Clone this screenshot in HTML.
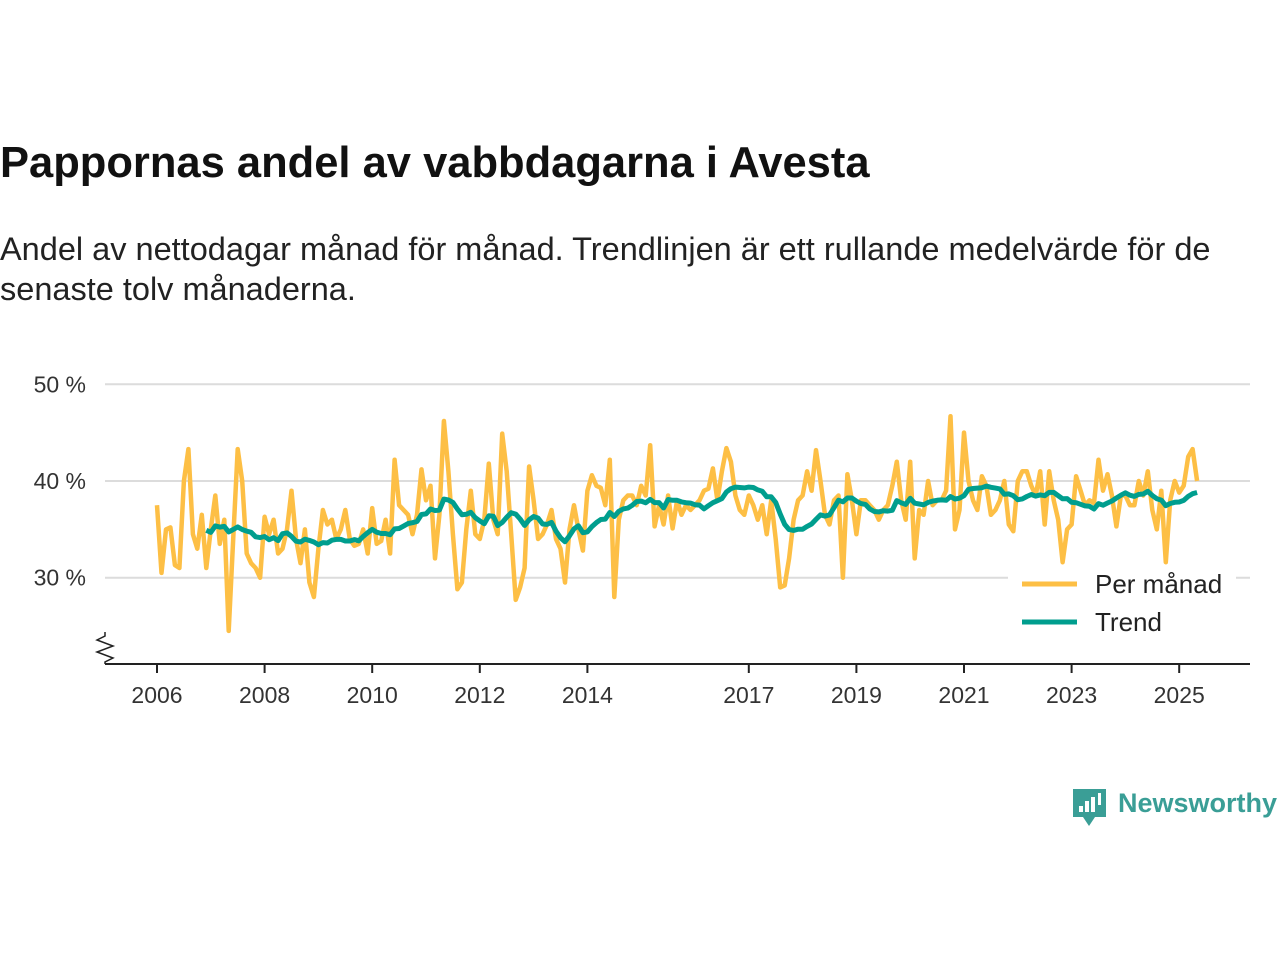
<!DOCTYPE html>
<html><head><meta charset="utf-8"><style>
body{margin:0;background:#fff;width:1280px;height:960px;overflow:hidden;font-family:"Liberation Sans",sans-serif;}
#title{position:absolute;left:0;top:139px;font-size:43.5px;font-weight:bold;color:#111;white-space:nowrap;}
#sub{position:absolute;left:0;top:229px;font-size:32.5px;line-height:40px;color:#222;width:1240px;}
svg{position:absolute;left:0;top:0;}
</style></head><body>
<div id="title">Pappornas andel av vabbdagarna i Avesta</div>
<div id="sub">Andel av nettodagar månad för månad. Trendlinjen är ett rullande medelvärde för de senaste tolv månaderna.</div>
<svg id="chart" width="1280" height="960"></svg>
<script>
const monthly = [
37.5,30.5,35,35.2,31.3,31,40,43.3,34.5,33,36.5,31,
35,38.5,33.5,36,24.5,34,43.3,40,32.5,31.5,31,30,
36.3,34.5,36,32.5,33,35,39,34,31.5,35,29.5,28,
33,37,35.5,36,34,35,37,34,33.3,33.5,35,32.5,
37.2,33.5,33.8,36,32.5,42.2,37.5,37,36.5,34.5,36.5,41.2,
38,39.5,32,36.5,46.2,41,34.5,28.8,29.5,35,39,34.5,
34,36,41.8,36,34.5,44.9,41,34.5,27.7,29,31,41.5,
38,34,34.5,35.5,37,34,33,29.5,35,37.5,35,32.8,
39,40.6,39.5,39.3,37.5,42.2,28,36,38,38.5,38.5,37.5,
39.5,38.5,43.7,35.3,37.5,35.5,38.5,35.1,38,36.5,37.5,37,
37.5,38,39,39.2,41.3,38,41,43.4,42,38.5,37,36.5,
38.5,37.5,36,37.5,34.5,38,34,29,29.2,32,36,38,
38.5,41,39,43.2,40,36.5,35.5,38,38.5,30,40.7,38,
34.5,38,38,37.5,37,36,37,37.5,39.5,42,38,36,
42,32,37,36.5,40,37.5,38,38,39,46.7,35,37,
45,40,38,37,40.5,39.5,36.5,37,38,40,35.5,34.8,
40,41,41,39.5,38.5,41,35.5,41,38,36,31.6,35,
35.5,40.5,39,37.5,38,37.7,42.2,39,40.7,38.5,35.3,38.5,
38.5,37.5,37.5,40,38.5,41,37,35,39,31.6,38,40,
38.8,39.5,42.5,43.3,40
];
const startYear = 2006;
const yTicks = [30,40,50];
const yTickLabels = ["30 %","40 %","50 %"];
const xTicks = [2006,2008,2010,2012,2014,2017,2019,2021,2023,2025];

const NS="http://www.w3.org/2000/svg";
const svg=document.getElementById('chart');
const X0=157, PXY=53.8;
const x=t=>X0+(t-startYear)*PXY;
const y=v=>481-(v-40)*9.67;
function mk(tag,attrs,parent){const e=document.createElementNS(NS,tag);for(const k in attrs)e.setAttribute(k,attrs[k]);(parent||svg).appendChild(e);return e;}

yTicks.forEach((v,i)=>{
  const g=mk('line',{x1:105,x2:1250,y1:y(v),y2:y(v),stroke:'#dcdcdc','stroke-width':2});
  
  
  const t=mk('text',{x:86,y:y(v)+8,'text-anchor':'end','font-size':23,fill:'#333','font-family':'Liberation Sans, sans-serif'});
  t.textContent=yTickLabels[i];
  
  
});
const base=mk('line',{x1:105,x2:1250,y1:664,y2:664,stroke:'#222','stroke-width':2});


const zz=mk('polyline',{points:'105,632 105,636 97,640 113,646 97,652 113,658 105,662 105,664',fill:'none',stroke:'#222','stroke-width':1.5});


xTicks.forEach(yr=>{
  const l=mk('line',{x1:x(yr),x2:x(yr),y1:664,y2:673,stroke:'#222','stroke-width':2});
  
  
  const t=mk('text',{x:x(yr),y:703,'text-anchor':'middle','font-size':23,fill:'#333','font-family':'Liberation Sans, sans-serif'});
  t.textContent=yr;
  
  
});
const mp=monthly.map((v,i)=>x(startYear+i/12).toFixed(1)+','+y(v).toFixed(1)).join(' ');
const ml=mk('polyline',{points:mp,fill:'none',stroke:'#fdbf45','stroke-width':4.5,'stroke-linejoin':'round'});


const trend=[];
for(let i=11;i<monthly.length;i++){let s=0;for(let j=i-11;j<=i;j++)s+=monthly[j];trend.push([i,s/12]);}
const tp=trend.map(([i,v])=>x(startYear+i/12).toFixed(1)+','+y(v).toFixed(1)).join(' ');
const tl=mk('polyline',{points:tp,fill:'none',stroke:'#009e8e','stroke-width':5,'stroke-linejoin':'round'});


const lb=mk('rect',{x:1008,y:566,width:228,height:74,fill:'#fff'});


[['Per månad','#fdbf45',584],['Trend','#009e8e',622]].forEach(([n,c,yy])=>{
  const l=mk('line',{x1:1022,x2:1077,y1:yy,y2:yy,stroke:c,'stroke-width':5});
  
  
  const t=mk('text',{x:1095,y:yy+9,'font-size':26,fill:'#222','font-family':'Liberation Sans, sans-serif'});
  t.textContent=n;
  
  
});
const lg=mk('g',{});


mk('path',{d:'M1073,789 h33 v28 h-11 l-6,9 l-6,-9 h-10 z',fill:'#3a9e96'},lg);
[[1079,806,4,6],[1085,801,4,11],[1091,797,4,15],[1098,793,3,12]].forEach(r=>mk('rect',{x:r[0],y:r[1],width:r[2],height:r[3],fill:'#fff'},lg));
const lt=mk('text',{x:1118,y:812,'font-size':27,'font-weight':'bold',fill:'#3a9e96','font-family':'Liberation Sans, sans-serif'},lg);
lt.textContent='Newsworthy';
</script>
</body></html>
